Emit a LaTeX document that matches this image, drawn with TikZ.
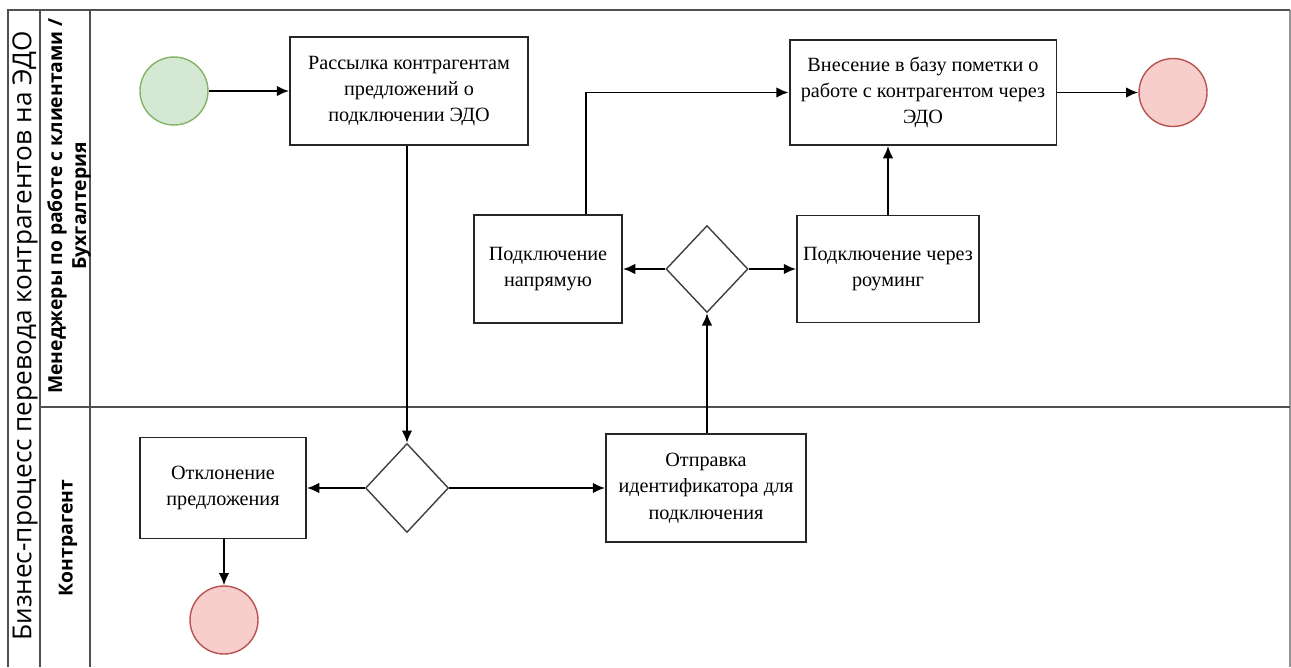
\documentclass[tikz,border=0pt]{standalone}
\usepackage{fontspec}
\setmainfont{Liberation Serif}
\newfontfamily\lanefont{Open Sans}
\usepackage{tikz}
\usetikzlibrary{shapes.geometric,arrows.meta,positioning,calc}
\definecolor{startfill}{HTML}{D5E8D4}
\definecolor{startdraw}{HTML}{82B366}
\definecolor{endfill}{HTML}{F8CECC}
\definecolor{enddraw}{HTML}{B85450}
\definecolor{lanegray}{HTML}{505050}

\begin{document}
\begin{tikzpicture}[
  x=0.02cm, y=-0.02cm,
  font=\fontsize{11.5}{15}\selectfont,
  task/.style={draw=black!85,fill=white,line width=1.1pt,align=center,inner sep=2pt},
  gate/.style={draw=black!75,fill=white,diamond,line width=0.8pt,inner sep=0pt},
  startev/.style={circle,draw=startdraw,fill=startfill,line width=0.8pt,minimum size=1.36cm},
  endev/.style={circle,draw=enddraw,fill=endfill,line width=0.8pt,minimum size=1.36cm},
  lane/.style={draw=lanegray,line width=1.2pt},
  flow/.style={-{Latex[length=7pt,width=6pt]},line width=1.1pt,draw=black}
]
  \useasboundingbox (0,0) rectangle (1291,667);

  % pool and lanes
  \draw[lane,draw=lanegray!60] (1290,10) -- (1290,667);
  \draw[lane] (8,667) -- (8,10) -- (1290,10);
  \draw[lane] (40,10) -- (40,667);
  \draw[lane] (90,10) -- (90,667);
  \draw[lane] (40,407) -- (1290,407);
  \node[rotate=90,font=\lanefont\fontsize{14.9}{17}\selectfont] (pool) at (25,336) {Бизнес-процесс перевода контрагентов на ЭДО};
  \node[rotate=90,align=center,font=\lanefont\bfseries\fontsize{11}{13.6}\selectfont] (lanemgr) at (69,206) {Менеджеры по работе с клиентами /\\Бухгалтерия};
  \node[rotate=90,font=\lanefont\bfseries\fontsize{11}{13.6}\selectfont] (lanecp) at (68,538) {Контрагент};

  % manager lane
  \node[startev] (start) at (174,91) {};
  \node[task,minimum width=4.76cm,minimum height=2.16cm] (mail) at (409,91) {Рассылка контрагентам\\предложений о\\подключении ЭДО};
  \node[task,minimum width=5.34cm,minimum height=2.1cm] (mark) at (923,92.5) {Внесение в базу пометки о\\работе с контрагентом через\\ЭДО};
  \node[endev] (endtop) at (1173,92.5) {};
  \node[task,minimum width=2.96cm,minimum height=2.16cm] (direct) at (548,269) {Подключение\\напрямую};
  \node[gate,minimum width=1.64cm,minimum height=1.74cm] (gwtype) at (707,269) {};
  \node[task,minimum width=3.64cm,minimum height=2.14cm] (roam) at (888,269) {Подключение через\\роуминг};

  % counterparty lane
  \node[gate,minimum width=1.66cm,minimum height=1.78cm] (gwanswer) at (407,488) {};
  \node[task,minimum width=3.32cm,minimum height=2.02cm] (reject) at (223,488) {Отклонение\\предложения};
  \node[endev] (endbot) at (224,620) {};
  \node[task,minimum width=4cm,minimum height=2.16cm] (send) at (706,488) {Отправка\\идентификатора для\\подключения};

  \draw[flow] (start) -- (mail);
  \draw[flow] (gwanswer.north |- mail.south) -- (gwanswer.north);
  \draw[flow] (gwanswer) -- (reject);
  \draw[flow] (gwanswer) -- (send);
  \draw[flow] (reject.south -| endbot.north) -- (endbot.north);
  \draw[flow] (gwtype.south |- send.north) -- (gwtype.south);
  \draw[flow] (gwtype) -- (direct);
  \draw[flow] (gwtype) -- (roam);
  \draw[flow] ([xshift=0.76cm]direct.north) |- (mark.west);
  \draw[flow] (roam.north) -- (roam.north |- mark.south);
  \draw[flow] (mark) -- (endtop);
\end{tikzpicture}
\end{document}
